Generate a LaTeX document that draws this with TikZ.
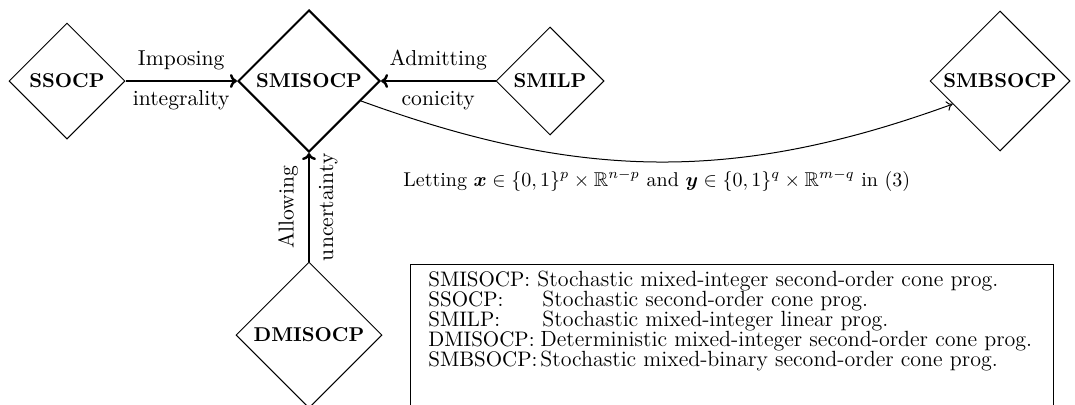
\documentclass[tikz,border=0pt]{standalone}
\usepackage{amsmath,amssymb}
\usetikzlibrary{shapes.geometric,arrows.meta}
\newcommand{\lblfont}{\fontsize{10.8}{13}\selectfont}
\newcommand{\legfont}{\fontsize{11}{13}\selectfont}
\newcommand{\abbrfont}{\fontsize{10.5}{13}\selectfont}
\begin{document}
\begin{tikzpicture}[x=0.5pt,y=0.5pt,
  prob/.style={shape=diamond, draw, line width=0.5pt, inner sep=0pt, font=\bfseries},
  bigarrow/.style={line width=1.2pt, -{Computer Modern Rightarrow[length=3.5pt,width=7pt]}},
  thinarrow/.style={line width=0.5pt, -{Computer Modern Rightarrow[length=3pt,width=5pt]}},
  elabel/.style={font=\lblfont},
  legabbr/.style={anchor=base west, inner sep=0pt, font=\abbrfont},
  legdesc/.style={anchor=base west, inner sep=0pt, font=\legfont}]
\useasboundingbox (0,0) rectangle (1075,404);
\clip (0,0) rectangle (1075,404);
\node[prob, minimum width=58pt, minimum height=58pt] (ssocp) at (67,323) {SSOCP};
\node[prob, line width=1pt, minimum width=71pt, minimum height=71pt] (smisocp) at (309,323) {SMISOCP};
\node[prob, minimum width=54pt, minimum height=54pt] (smilp) at (550,323) {SMILP};
\node[prob, minimum width=70pt, minimum height=70pt] (smbsocp) at (1000,323) {SMBSOCP};
\node[prob, minimum width=73pt, minimum height=73pt] (dmisocp) at (309,69) {DMISOCP};

\draw[bigarrow] (ssocp.east) -- node[elabel,above=1.5pt]{Imposing} node[elabel,below=1pt]{integrality} (smisocp.west);
\draw[bigarrow] (smilp.west) -- node[elabel,above=1.5pt]{Admitting} node[elabel,below=1pt]{conicity} (smisocp.east);
\draw[bigarrow] (dmisocp.north) -- node[elabel,sloped,above=1.5pt]{Allowing} node[elabel,sloped,below=1pt]{uncertainty} (smisocp.south);
\draw[thinarrow] (smisocp.-21) to[out=-20,in=200]
  node[pos=0.5, below=0.5pt]{Letting $\boldsymbol{x}\in\{0,1\}^p\times\mathbb{R}^{n-p}$ and $\boldsymbol{y}\in\{0,1\}^q\times\mathbb{R}^{m-q}$ in (3)} (smbsocp.206);

\draw[line width=0.5pt] (410,-5) -- (410,140) -- (1053,140) -- (1053,-5);
\node[legabbr] (a1) at (428,118) {SMISOCP:};
\node[legdesc] (b1) at (537,118) {Stochastic mixed-integer second-order cone prog.};
\node[legabbr] (a2) at (428,98) {SSOCP:};
\node[legdesc] (b2) at (542,98) {Stochastic second-order cone prog.};
\node[legabbr] (a3) at (428,78) {SMILP:};
\node[legdesc] (b3) at (542,78) {Stochastic mixed-integer linear prog.};
\node[legabbr] (a4) at (428,58) {DMISOCP:};
\node[legdesc] (b4) at (540,58) {Deterministic mixed-integer second-order cone prog.};
\node[legabbr] (a5) at (428,38) {SMBSOCP:};
\node[legdesc] (b5) at (540,38) {Stochastic mixed-binary second-order cone prog.};
\end{tikzpicture}
\end{document}
